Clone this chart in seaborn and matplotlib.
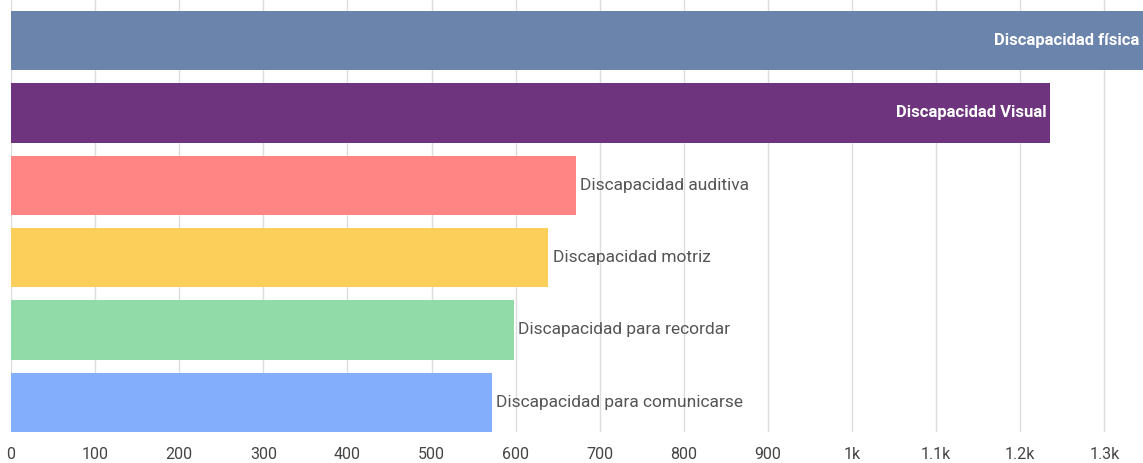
import matplotlib
matplotlib.use("Agg")
import matplotlib.pyplot as plt
import seaborn as sns
import pandas as pd
from matplotlib.ticker import FuncFormatter
from matplotlib import font_manager

categories = ["Discapacidad física", "Discapacidad Visual", "Discapacidad auditiva",
              "Discapacidad motriz", "Discapacidad para recordar", "Discapacidad para comunicarse"]
values = [1346, 1235, 672, 639, 598, 572]
colors = ["#6b84ab", "#6e347d", "#ff8585", "#fccf5a", "#90dba8", "#82aefc"]
inside = [True, True, False, False, False, False]
xticks = [0, 100, 200, 300, 400, 500, 600, 700, 800, 900, 1000, 1100, 1200, 1300]

sns.set_style("white")
names = {f.name for f in font_manager.fontManager.ttflist}
fam = "Liberation Sans Narrow" if "Liberation Sans Narrow" in names else "Roboto"
plt.rcParams["font.family"] = [fam, "DejaVu Sans"]

df = pd.DataFrame({"cat": categories, "val": values})

fig = plt.figure(figsize=(11.43, 4.63), dpi=100)
ax = fig.add_axes([11/1143, 1 - 432/463, (1143 - 11)/1143, 432/463])
sns.barplot(data=df, y="cat", x="val", hue="cat", palette=colors, legend=False,
            orient="h", width=0.82, ax=ax, saturation=1, zorder=2, linewidth=0)

ax.set_xlim(0, 1346)
ax.set_ylim(5.41, -0.56)
ax.set_xticks(xticks)
ax.xaxis.set_major_formatter(FuncFormatter(
    lambda v, p: ("%gk" % (v / 1000)) if v >= 1000 else "%d" % v))
ax.grid(axis="x", color="#dddddd", linewidth=1, zorder=0)
ax.set_axisbelow(True)
for s in ax.spines.values():
    s.set_visible(False)
ax.set_yticks([])
ax.set_xlabel("")
ax.set_ylabel("")
ax.tick_params(axis="x", length=7, color="#cccccc", labelsize=11.5, labelcolor="#444444", pad=4)

for i, (c, v, ins) in enumerate(zip(categories, values, inside)):
    if ins:
        ax.text(v - 4, i, c, ha="right", va="center", color="white",
                fontsize=12, fontweight="bold")
    else:
        ax.text(v + 5, i, c, ha="left", va="center", color="#555555", fontsize=12.5)

fig.savefig("out.png", dpi=100)
